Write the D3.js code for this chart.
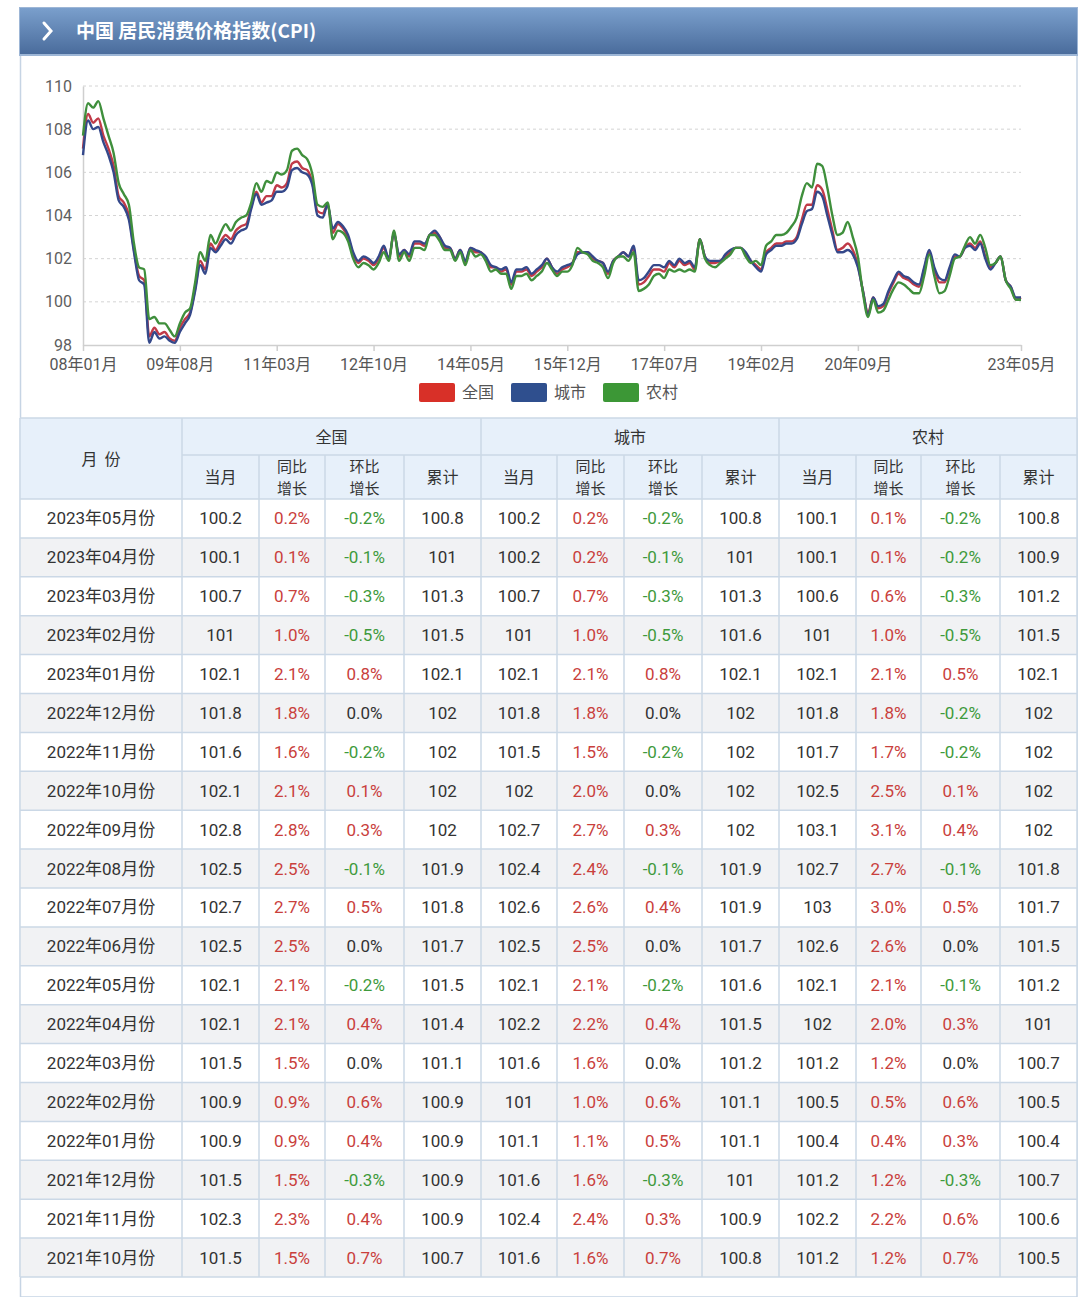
<!DOCTYPE html>
<html><head><meta charset="utf-8">
<script src="https://cdn.jsdelivr.net/npm/d3@7"></script>
<style>
html,body{margin:0;padding:0;background:#fff;}
svg{display:block;}
</style></head>
<body>
<svg id="c" width="1080" height="1297"></svg>
<script>
// ---------- chart data (index, previous year = 100) ----------
const startYear = 2008;
const tickLabels = ["08年01月","09年08月","11年03月","12年10月","14年05月","15年12月","17年07月","19年02月","20年09月","23年05月"];
const seriesNames = ["全国","城市","农村"];
const national = [
107.1,108.7,108.3,108.5,107.7,107.1,106.3,104.9,104.6,104.0,102.4,101.2,
101.0,98.4,98.8,98.5,98.6,98.3,98.2,98.8,99.2,99.5,100.6,101.9,
101.5,102.7,102.4,102.8,103.1,102.9,103.3,103.5,103.6,104.4,105.1,104.6,
104.9,104.9,105.4,105.3,105.5,106.4,106.5,106.2,106.1,105.5,104.2,104.1,
104.5,103.2,103.6,103.4,103.0,102.2,101.8,102.0,101.9,101.7,102.0,102.5,
102.0,103.2,102.1,102.4,102.1,102.7,102.7,102.6,103.1,103.2,103.0,102.5,
102.5,102.0,102.4,101.8,102.5,102.3,102.3,102.0,101.6,101.6,101.4,101.5,
100.8,101.4,101.4,101.5,101.2,101.4,101.6,102.0,101.6,101.3,101.5,101.6,
101.8,102.3,102.3,102.3,102.0,101.9,101.8,101.3,101.9,102.1,102.3,102.1,
102.5,100.8,100.9,101.2,101.5,101.5,101.4,101.8,101.6,101.9,101.7,101.8,
101.5,102.9,102.1,101.8,101.8,101.9,102.1,102.3,102.5,102.5,102.2,101.9,
101.7,101.5,102.3,102.5,102.7,102.7,102.8,102.8,103.0,103.8,104.5,104.5,
105.4,105.2,104.3,103.3,102.4,102.5,102.7,102.4,101.7,100.5,99.5,100.2,
99.7,99.8,100.4,100.9,101.3,101.1,101.0,100.8,100.7,101.5,102.3,101.5,
100.9,100.9,101.5,102.1,102.1,102.5,102.7,102.5,102.8,102.1,101.6,101.8,
102.1,101.0,100.7,100.1,100.2];
const urban = [
106.8,108.4,108.0,108.1,107.4,106.8,106.0,104.7,104.4,103.8,102.3,101.0,
100.8,98.1,98.6,98.3,98.4,98.2,98.1,98.6,99.0,99.4,100.5,101.7,
101.3,102.5,102.3,102.6,102.9,102.7,103.1,103.3,103.4,104.3,105.0,104.5,
104.6,104.7,105.1,105.1,105.3,106.1,106.2,106.0,105.9,105.4,104.0,103.9,
104.5,103.4,103.7,103.5,103.1,102.3,101.9,102.1,102.0,101.8,102.1,102.6,
102.0,103.2,102.2,102.4,102.2,102.8,102.8,102.7,103.1,103.3,103.0,102.6,
102.5,102.0,102.4,101.9,102.5,102.4,102.3,102.1,101.7,101.6,101.5,101.6,
100.9,101.5,101.5,101.6,101.3,101.5,101.7,102.0,101.6,101.4,101.6,101.7,
101.8,102.2,102.3,102.3,102.1,101.9,101.8,101.4,101.9,102.1,102.3,102.1,
102.6,101.0,101.1,101.4,101.7,101.7,101.6,101.9,101.7,102.0,101.8,101.9,
101.6,102.9,102.1,101.9,101.9,101.9,102.2,102.4,102.5,102.5,102.3,101.9,
101.6,101.4,102.2,102.4,102.6,102.6,102.7,102.7,102.9,103.6,104.2,104.3,
105.1,104.9,104.0,103.1,102.3,102.3,102.4,102.2,101.6,100.5,99.4,100.2,
99.8,99.9,100.5,101.0,101.4,101.2,101.1,100.9,100.8,101.6,102.4,101.6,
101.1,101.0,101.6,102.2,102.1,102.5,102.6,102.4,102.7,102.0,101.5,101.8,
102.1,101.0,100.7,100.2,100.2];
const rural = [
107.7,109.2,109.0,109.3,108.5,107.7,106.9,105.5,105.0,104.5,102.7,101.6,
101.5,99.2,99.3,99.0,99.0,98.7,98.4,99.0,99.5,99.7,100.9,102.3,
101.9,103.1,102.7,103.2,103.6,103.3,103.7,103.9,104.0,104.6,105.5,105.1,
105.6,105.5,106.0,105.9,106.1,107.0,107.1,106.8,106.6,105.9,104.5,104.4,
104.6,102.9,103.3,103.2,102.8,102.0,101.6,101.8,101.7,101.5,101.8,102.3,
101.9,103.3,101.9,102.3,101.9,102.5,102.5,102.4,103.1,103.1,102.8,102.4,
102.4,101.9,102.3,101.7,102.4,102.1,102.2,101.9,101.4,101.5,101.3,101.3,
100.6,101.2,101.2,101.3,101.0,101.2,101.4,101.8,101.5,101.2,101.4,101.4,
101.7,102.5,102.3,102.2,101.9,101.8,101.6,101.1,101.8,102.1,102.1,101.9,
102.3,100.5,100.6,100.8,101.2,101.3,101.1,101.5,101.4,101.5,101.4,101.5,
101.4,102.9,102.0,101.7,101.6,101.8,102.0,102.2,102.5,102.5,102.1,101.8,
101.9,101.7,102.6,102.8,103.1,103.1,103.2,103.5,103.9,104.9,105.5,105.3,
106.4,106.3,105.3,104.0,103.1,103.2,103.7,103.0,102.1,100.4,99.3,100.1,
99.5,99.6,100.1,100.6,100.9,100.8,100.6,100.4,100.4,101.2,102.2,101.2,
100.4,100.5,101.2,102.0,102.1,102.6,103.0,102.7,103.1,102.5,101.7,101.8,
102.1,101.0,100.6,100.1,100.1];

// ---------- table data ----------
const tableMonths = ["2023年05月份","2023年04月份","2023年03月份","2023年02月份","2023年01月份","2022年12月份","2022年11月份","2022年10月份","2022年09月份","2022年08月份","2022年07月份","2022年06月份","2022年05月份","2022年04月份","2022年03月份","2022年02月份","2022年01月份","2021年12月份","2021年11月份","2021年10月份"];
const natCur = ["100.2","100.1","100.7","101","102.1","101.8","101.6","102.1","102.8","102.5","102.7","102.5","102.1","102.1","101.5","100.9","100.9","101.5","102.3","101.5"];
const natYoy = ["0.2%","0.1%","0.7%","1.0%","2.1%","1.8%","1.6%","2.1%","2.8%","2.5%","2.7%","2.5%","2.1%","2.1%","1.5%","0.9%","0.9%","1.5%","2.3%","1.5%"];
const natMom = ["-0.2%","-0.1%","-0.3%","-0.5%","0.8%","0.0%","-0.2%","0.1%","0.3%","-0.1%","0.5%","0.0%","-0.2%","0.4%","0.0%","0.6%","0.4%","-0.3%","0.4%","0.7%"];
const natCum = ["100.8","101","101.3","101.5","102.1","102","102","102","102","101.9","101.8","101.7","101.5","101.4","101.1","100.9","100.9","100.9","100.9","100.7"];
const urbCur = ["100.2","100.2","100.7","101","102.1","101.8","101.5","102","102.7","102.4","102.6","102.5","102.1","102.2","101.6","101","101.1","101.6","102.4","101.6"];
const urbYoy = ["0.2%","0.2%","0.7%","1.0%","2.1%","1.8%","1.5%","2.0%","2.7%","2.4%","2.6%","2.5%","2.1%","2.2%","1.6%","1.0%","1.1%","1.6%","2.4%","1.6%"];
const urbMom = ["-0.2%","-0.1%","-0.3%","-0.5%","0.8%","0.0%","-0.2%","0.0%","0.3%","-0.1%","0.4%","0.0%","-0.2%","0.4%","0.0%","0.6%","0.5%","-0.3%","0.3%","0.7%"];
const urbCum = ["100.8","101","101.3","101.6","102.1","102","102","102","102","101.9","101.9","101.7","101.6","101.5","101.2","101.1","101.1","101","100.9","100.8"];
const rurCur = ["100.1","100.1","100.6","101","102.1","101.8","101.7","102.5","103.1","102.7","103","102.6","102.1","102","101.2","100.5","100.4","101.2","102.2","101.2"];
const rurYoy = ["0.1%","0.1%","0.6%","1.0%","2.1%","1.8%","1.7%","2.5%","3.1%","2.7%","3.0%","2.6%","2.1%","2.0%","1.2%","0.5%","0.4%","1.2%","2.2%","1.2%"];
const rurMom = ["-0.2%","-0.2%","-0.3%","-0.5%","0.5%","-0.2%","-0.2%","0.1%","0.4%","-0.1%","0.5%","0.0%","-0.1%","0.3%","0.0%","0.6%","0.3%","-0.3%","0.6%","0.7%"];
const rurCum = ["100.8","100.9","101.2","101.5","102.1","102","102","102","102","101.8","101.7","101.5","101.2","101","100.7","100.5","100.4","100.7","100.6","100.5"];
const subHeads = ["当月","同比|增长","环比|增长","累计"];

// ---------- drawing ----------
const svg = d3.select("#c");
const FONT = "Roboto, 'Noto Sans CJK SC', sans-serif";
const CJK = "'Noto Sans CJK SC', sans-serif";

const months = d3.range(national.length).map(i => {
  const yy = startYear + Math.floor(i / 12), m = i % 12 + 1;
  return String(yy % 100).padStart(2, "0") + "年" + String(m).padStart(2, "0") + "月";
});

// header bar
const defs = svg.append("defs");
const g1 = defs.append("linearGradient").attr("id","hb").attr("x1",0).attr("y1",0).attr("x2",0).attr("y2",1);
g1.append("stop").attr("offset","0%").attr("stop-color","#7a9fcc");
g1.append("stop").attr("offset","100%").attr("stop-color","#4a6c9c");
svg.append("rect").attr("x",20.5).attr("y",55).attr("width",1056.5).attr("height",1242)
  .attr("fill","#fff").attr("stroke","#c6d4e4").attr("stroke-width",1.5);
svg.append("rect").attr("x",19).attr("y",7).attr("width",1059).attr("height",49)
  .attr("fill","#9db6d6");
svg.append("rect").attr("x",20).attr("y",8).attr("width",1057).attr("height",46)
  .attr("fill","url(#hb)");
svg.append("path").attr("d","M44,23 L51,31 L44,39").attr("fill","none")
  .attr("stroke","#fff").attr("stroke-width",3).attr("stroke-linecap","round");
svg.append("text").attr("x",76).attr("y",38).attr("fill","#fff")
  .attr("font-family",CJK).attr("font-weight","bold").attr("font-size",19)
  .text("中国 居民消费价格指数(CPI)");

// scales
const x = d3.scaleLinear().domain([0, national.length - 1]).range([83, 1021]);
const y = d3.scaleLinear().domain([98, 110]).range([345, 86]);

// grid
svg.append("g").selectAll("line").data(d3.range(100, 111, 2)).join("line")
  .attr("x1",83).attr("x2",1021).attr("y1",d=>y(d)).attr("y2",d=>y(d))
  .attr("stroke","#d4d4d4").attr("stroke-dasharray","3,3").attr("stroke-width",1);

// y axis
const ya = svg.append("g").attr("transform","translate(83,0)")
  .call(d3.axisLeft(y).tickValues(d3.range(98,111,2)).tickSize(0).tickPadding(11));
ya.select(".domain").attr("stroke","#cfcfcf").attr("stroke-width",1.5);
ya.selectAll("text").attr("font-family",FONT).attr("font-size",16).attr("fill","#5e5e5e");

// x axis
const tickIdx = tickLabels.map(t => months.indexOf(t));
const xa = svg.append("g").attr("transform","translate(0,345)")
  .call(d3.axisBottom(x).tickValues(tickIdx).tickFormat(i => months[i]).tickSize(6).tickSizeOuter(0).tickPadding(8));
xa.select(".domain").attr("stroke","#cfcfcf").attr("stroke-width",1.5);
xa.selectAll("line").attr("stroke","#cfcfcf").attr("stroke-width",1.5);
xa.selectAll("text").attr("font-family",FONT).attr("font-size",16).attr("fill","#555");

// lines
const lineColors = {"全国":"#c03a48","城市":"#34488a","农村":"#3f8f3c"};
const seriesData = {"全国":national,"城市":urban,"农村":rural};
const line = d3.line().x((d,i)=>x(i)).y(d=>y(d)).curve(d3.curveMonotoneX);
["全国","城市","农村"].forEach(n => {
  svg.append("path").datum(seriesData[n]).attr("d",line).attr("fill","none")
    .attr("stroke",lineColors[n]).attr("stroke-width",2.4).attr("stroke-linejoin","round");
});

// legend
const legColors = {"全国":"#d83028","城市":"#2f4f8e","农村":"#3c9736"};
seriesNames.forEach((n,i) => {
  const lx = 419 + i*92;
  svg.append("rect").attr("x",lx).attr("y",383).attr("width",36).attr("height",19).attr("rx",2)
    .attr("fill",legColors[n]);
  svg.append("text").attr("x",lx+43).attr("y",398).attr("font-family",CJK).attr("font-size",16)
    .attr("fill","#555").text(n);
});

// ---------- table ----------
const colX = [20,182,259,325,404,481,557,624,702,779,856,921,1000,1077];
const tTop = 418, h1 = 37, h2 = 44, rowH = 38.9;
const dTop = tTop + h1 + h2;
const tg = svg.append("g");
const border = "#cbd8e6";

// header bg
tg.append("rect").attr("x",colX[0]).attr("y",tTop).attr("width",colX[13]-colX[0]).attr("height",h1+h2)
  .attr("fill","#e7f0fa");
// row backgrounds
tg.selectAll("rect.row").data(tableMonths).join("rect").attr("class","row")
  .attr("x",colX[0]).attr("y",(d,i)=>dTop+i*rowH).attr("width",colX[13]-colX[0]).attr("height",rowH)
  .attr("fill",(d,i)=> i%2 ? "#f1f2f4" : "#ffffff");

// header texts
const hText = (tx,ty,t,fs) => tg.append("text").attr("x",tx).attr("y",ty).attr("text-anchor","middle")
  .attr("font-family",CJK).attr("font-size",fs||16).attr("fill","#333").text(t);
hText((colX[0]+colX[1])/2, tTop+(h1+h2)/2+6, "月  份").attr("xml:space","preserve");
seriesNames.forEach((n,g) => {
  hText((colX[1+g*4]+colX[5+g*4])/2, tTop+h1/2+6, n);
  subHeads.forEach((s,k) => {
    const cx = (colX[1+g*4+k]+colX[2+g*4+k])/2;
    const parts = s.split("|");
    if (parts.length===1) hText(cx, tTop+h1+h2/2+6, parts[0]);
    else { hText(cx, tTop+h1+17, parts[0], 15); hText(cx, tTop+h1+39, parts[1], 15); }
  });
});

// data texts
const cols = [natCur,natYoy,natMom,natCum,urbCur,urbYoy,urbMom,urbCum,rurCur,rurYoy,rurMom,rurCum];
const pctColor = v => v.startsWith("-") ? "#3f9a3c" : (v==="0.0%" ? "#333" : "#c9403c");
tableMonths.forEach((m,i) => {
  const cy = dTop + i*rowH + rowH/2 + 6;
  tg.append("text").attr("x",(colX[0]+colX[1])/2).attr("y",cy).attr("text-anchor","middle")
    .attr("font-family",FONT).attr("font-size",17).attr("fill","#333").text(m);
  cols.forEach((arr,c) => {
    const v = arr[i];
    const isPct = (c%4===1 || c%4===2);
    tg.append("text").attr("x",(colX[c+1]+colX[c+2])/2).attr("y",cy).attr("text-anchor","middle")
      .attr("font-family",FONT).attr("font-size",17).attr("fill",isPct?pctColor(v):"#333").text(v);
  });
});

// grid lines of the table
const tBottom = dTop + tableMonths.length*rowH;
const hl = [tTop, dTop].concat(tableMonths.map((d,i)=>dTop+(i+1)*rowH));
hl.forEach(yy => tg.append("line").attr("x1",colX[0]).attr("x2",colX[13]).attr("y1",yy).attr("y2",yy)
  .attr("stroke",border).attr("stroke-width",1.5));
tg.append("line").attr("x1",colX[1]).attr("x2",colX[13]).attr("y1",tTop+h1).attr("y2",tTop+h1)
  .attr("stroke",border).attr("stroke-width",1.5);
colX.forEach((xx,k) => {
  const major = (k===0||k===1||k===5||k===9||k===13);
  tg.append("line").attr("x1",xx).attr("x2",xx).attr("y1",major?tTop:tTop+h1).attr("y2",tBottom)
    .attr("stroke",border).attr("stroke-width",1.5);
});
</script>
</body></html>
